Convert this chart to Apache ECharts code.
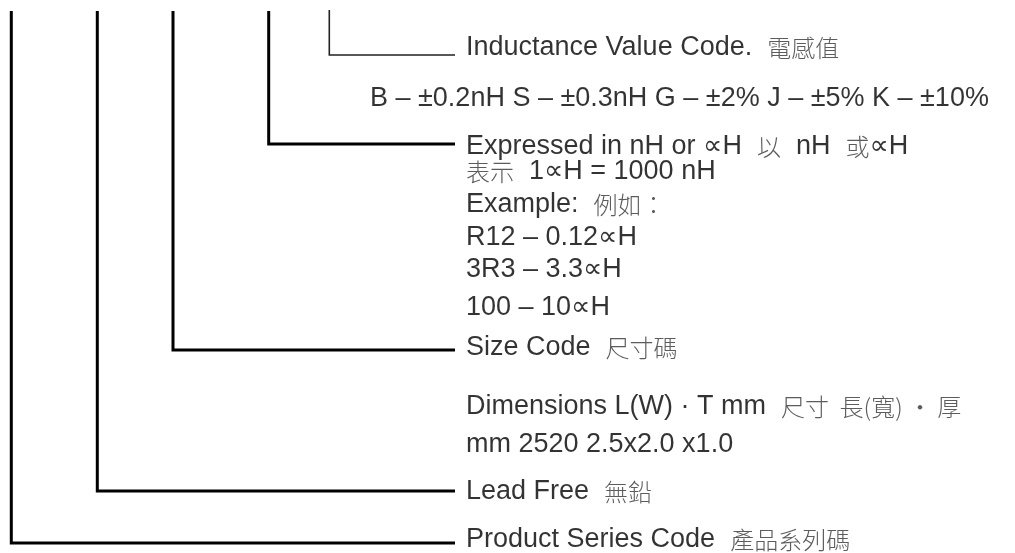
<!DOCTYPE html>
<html><head><meta charset="utf-8">
<script src="https://cdn.jsdelivr.net/npm/echarts@6/dist/echarts.min.js"></script>
<style>html,body{margin:0;padding:0;background:#fff}#c{width:1015px;height:553px}</style>
</head><body><div id="c"></div>
<script>
// ---- diagram data (units: diagram pixels on a 1015 x 553 plane) ----
// code-position stems, left to right
const stemX   = [11.3, 97.3, 173, 268.7, 329.3];
const stemTop = [11, 11, 11, 11, 10];
const elbowY  = [543, 491, 350, 144, 55];
const leaderEnd = 455;

// description texts ({c|...} marks Chinese text)
const labelLines = [
  'Inductance Value Code.  {c|電感值}',
  'B – ±0.2nH S – ±0.3nH G – ±2% J – ±5% K – ±10%',
  'Expressed in nH or ∝H  {c|以}  nH  {c|或}∝H',
  '{c|表示}  1∝H = 1000 nH',
  'Example:  {c|例如：}',
  'R12 – 0.12∝H',
  '3R3 – 3.3∝H',
  '100 – 10∝H',
  'Size Code  {c|尺寸碼}',
  'Dimensions L(W) · T mm  {c|尺寸  長(寬) · 厚}',
  'mm 2520 2.5x2.0 x1.0',
  'Lead Free  {c|無鉛}',
  'Product Series Code  {c|產品系列碼}'
];
const labelX = [466, 370, 466, 466, 466, 466, 466, 466, 466, 466, 466, 466, 466];
const labelY = [48, 99, 147, 172, 205, 238, 270, 308, 348, 407, 445, 492, 540];

const chart = echarts.init(document.getElementById('c'), null, {renderer: 'canvas'});

const stemSeries = stemX.map((x, i) => ({
  type: 'line',
  data: [[x, stemTop[i]], [x, elbowY[i]], [leaderEnd, elbowY[i]]],
  symbol: 'none',
  silent: true,
  lineStyle: {
    color: i === 4 ? '#222' : '#000',
    width: i === 4 ? 1.6 : 3,
    cap: 'butt',
    join: 'miter'
  },
  animation: false
}));

const textSeries = {
  type: 'scatter',
  symbolSize: 0,
  silent: true,
  animation: false,
  data: labelLines.map((t, i) => [labelX[i], labelY[i], t]),
  label: {
    show: true,
    position: 'right',
    distance: 0,
    formatter: p => p.value[2],
    fontFamily: "'Liberation Sans', Arial, 'DejaVu Sans', 'Noto Sans CJK TC'",
    fontSize: 27,
    color: '#000',
    rich: {
      c: {
        fontFamily: "'Noto Sans CJK TC', 'Noto Sans CJK SC'",
        fontSize: 24,
        fontWeight: 300,
        color: '#333'
      }
    }
  }
};

chart.setOption({
  animation: false,
  grid: {left: 0, right: 0, top: 0, bottom: 0},
  xAxis: {type: 'value', min: 0, max: 1015, show: false},
  yAxis: {type: 'value', min: 0, max: 553, inverse: true, show: false},
  series: stemSeries.concat([textSeries])
});
</script>
</body></html>
